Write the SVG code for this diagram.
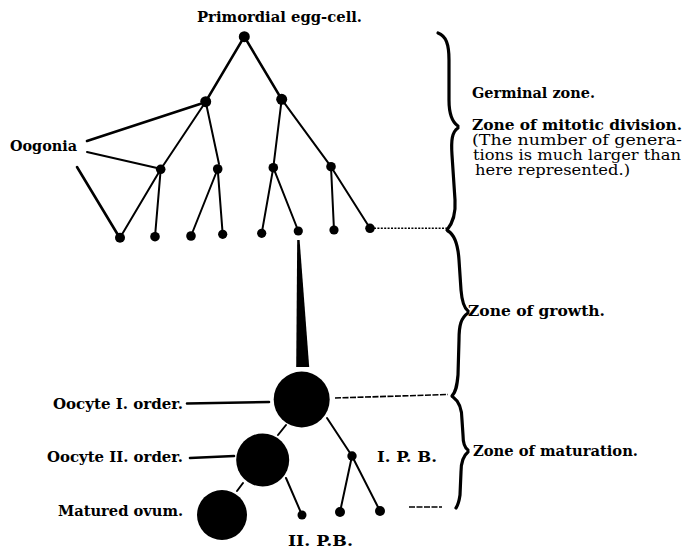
<svg xmlns="http://www.w3.org/2000/svg" width="684" height="551" viewBox="0 0 684 551">
<style>
.ln{stroke:#000;stroke-width:2;fill:none;stroke-linecap:round}
.th{stroke-width:2.6}
.br{stroke:#000;stroke-width:3.2;fill:none;stroke-linecap:round}
.dot{stroke:#000;stroke-width:1.6;fill:none;stroke-dasharray:2 1.4}
.dash{stroke:#000;stroke-width:1.6;fill:none;stroke-dasharray:6 1.5}
.n{fill:#000}
.t{font-family:"DejaVu Serif","Liberation Serif",serif;font-weight:bold;font-size:15px;fill:#000}
.s{font-size:14px}
.r{font-weight:normal;font-size:14px}
</style>
<rect width="684" height="551" fill="#fff"/>
<g id="connectors">
<line class="ln th" x1="244.3" y1="36.7" x2="205.7" y2="101.7"/>
<line class="ln th" x1="244.3" y1="36.7" x2="281.7" y2="99.3"/>
<line class="ln" x1="205.7" y1="101.7" x2="160.7" y2="169.3"/>
<line class="ln" x1="205.7" y1="101.7" x2="219" y2="164"/>
<line class="ln" x1="281.7" y1="99.3" x2="273.3" y2="167.7"/>
<line class="ln" x1="281.7" y1="99.3" x2="331" y2="166.7"/>
<line class="ln" x1="160.7" y1="169.3" x2="120" y2="237.7"/>
<line class="ln" x1="160.7" y1="169.3" x2="155" y2="236.7"/>
<line class="ln" x1="217.7" y1="169" x2="191" y2="236"/>
<line class="ln" x1="217.7" y1="169" x2="222.7" y2="234.3"/>
<line class="ln" x1="273.3" y1="167.7" x2="261.7" y2="233.3"/>
<line class="ln" x1="273.3" y1="167.7" x2="298.3" y2="231"/>
<line class="ln" x1="331" y1="166.7" x2="334" y2="230"/>
<line class="ln" x1="331" y1="166.7" x2="370" y2="228.3"/>
<line class="ln th" x1="87" y1="141" x2="200" y2="104"/>
<line class="ln" x1="87" y1="152" x2="157" y2="168"/>
<line class="ln th" x1="77" y1="167" x2="118" y2="235"/>
<line class="dot" x1="374" y1="228.3" x2="447" y2="228.3"/>
<polygon class="n" points="297.2,240 299.6,240 309.2,367 296.2,367"/>
<line class="ln th" x1="187" y1="403.5" x2="269" y2="402"/>
<line class="ln th" x1="190" y1="458" x2="234" y2="456"/>
<line class="dash" x1="335" y1="398" x2="448" y2="394.5"/>
<line class="ln" x1="286" y1="425" x2="278" y2="435"/>
<line class="ln" x1="243" y1="483" x2="237" y2="491"/>
<line class="ln" x1="327" y1="418" x2="352" y2="456"/>
<line class="ln" x1="286" y1="478" x2="302" y2="515"/>
<line class="ln" x1="352" y1="456" x2="340" y2="512"/>
<line class="ln" x1="352" y1="456" x2="380" y2="511"/>
<line class="dash" x1="409" y1="507" x2="442" y2="507"/>
</g>
<g id="braces">
<path class="br" d="M438,33 C446,36 449,44 449,60 L449,100 C449,115 452,122 458,126"/>
<path class="br" d="M458,128 C452,132 451,140 452,155 L455,200 C456,215 452,224 447,230"/>
<path class="br" d="M448,231 C455,235 458,245 459,260 L461,290 C462,302 464,308 468,311"/>
<path class="br" d="M468,313 C461,318 459,325 459,340 L458,375 C457,386 456,392 452,396"/>
<path class="br" d="M453,397 C460,402 462,410 462,420 L463,435 C463,443 465,448 468,450"/>
<path class="br" d="M468,452 C463,456 461,463 461,472 L460,495 C459,502 458,505 456,508"/>
</g>
<g id="node-root"><circle class="n" cx="244.3" cy="36.7" r="5.5"/><text class="t" x="197" y="22" textLength="165" lengthAdjust="spacingAndGlyphs">Primordial egg-cell.</text></g>
<g id="node-2a"><circle class="n" cx="205.7" cy="101.7" r="5.5"/></g>
<g id="node-2b"><circle class="n" cx="281.7" cy="99.3" r="5.5"/></g>
<g id="node-3a"><circle class="n" cx="160.7" cy="169.3" r="4.8"/></g>
<g id="node-3b"><circle class="n" cx="217.7" cy="169" r="4.8"/></g>
<g id="node-3c"><circle class="n" cx="273.3" cy="167.7" r="4.8"/></g>
<g id="node-3d"><circle class="n" cx="331" cy="166.7" r="4.8"/></g>
<g id="node-4a"><circle class="n" cx="120" cy="237.7" r="5"/></g>
<g id="node-4b"><circle class="n" cx="155" cy="236.7" r="4.8"/></g>
<g id="node-4c"><circle class="n" cx="191" cy="236" r="4.8"/></g>
<g id="node-4d"><circle class="n" cx="222.7" cy="234.3" r="4.6"/></g>
<g id="node-4e"><circle class="n" cx="261.7" cy="233.3" r="4.6"/></g>
<g id="node-4f"><circle class="n" cx="298.3" cy="231" r="4.6"/></g>
<g id="node-4g"><circle class="n" cx="334" cy="230" r="4.6"/></g>
<g id="node-4h"><circle class="n" cx="370" cy="228.3" r="4.8"/></g>
<g id="label-oogonia"><text class="t" x="10" y="151" textLength="67" lengthAdjust="spacingAndGlyphs">Oogonia</text></g>
<g id="node-oocyte1"><circle class="n" cx="301.7" cy="399.5" r="28"/><text class="t" x="53" y="409" textLength="130" lengthAdjust="spacingAndGlyphs">Oocyte I. order.</text></g>
<g id="node-oocyte2"><circle class="n" cx="262.7" cy="460" r="26.5"/><text class="t" x="47" y="462" textLength="136" lengthAdjust="spacingAndGlyphs">Oocyte II. order.</text></g>
<g id="node-ovum"><circle class="n" cx="222" cy="515" r="25"/><text class="t" x="58" y="516" textLength="125" lengthAdjust="spacingAndGlyphs">Matured ovum.</text></g>
<g id="node-pb1"><circle class="n" cx="352" cy="456" r="4.7"/><text class="t" x="377" y="462" textLength="60" lengthAdjust="spacingAndGlyphs">I. P. B.</text></g>
<g id="node-pb1a"><circle class="n" cx="340" cy="512" r="5"/></g>
<g id="node-pb1b"><circle class="n" cx="380" cy="511" r="5"/></g>
<g id="node-pb2"><circle class="n" cx="302" cy="515" r="4.5"/><text class="t" x="288" y="546" textLength="65" lengthAdjust="spacingAndGlyphs">II. P.B.</text></g>
<g id="zone-labels">
<text class="t" x="472" y="98" textLength="123" lengthAdjust="spacingAndGlyphs">Germinal zone.</text>
<text class="t s" x="472" y="130" textLength="210" lengthAdjust="spacingAndGlyphs">Zone of mitotic division.</text>
<text class="t r" x="472" y="145" textLength="210" lengthAdjust="spacingAndGlyphs">(The number of genera-</text>
<text class="t r" x="473" y="160" textLength="208" lengthAdjust="spacingAndGlyphs">tions is much larger than</text>
<text class="t r" x="475" y="175" textLength="155" lengthAdjust="spacingAndGlyphs">here represented.)</text>
<text class="t" x="468" y="316" textLength="137" lengthAdjust="spacingAndGlyphs">Zone of growth.</text>
<text class="t" x="473" y="456" textLength="165" lengthAdjust="spacingAndGlyphs">Zone of maturation.</text>
</g>
</svg>
